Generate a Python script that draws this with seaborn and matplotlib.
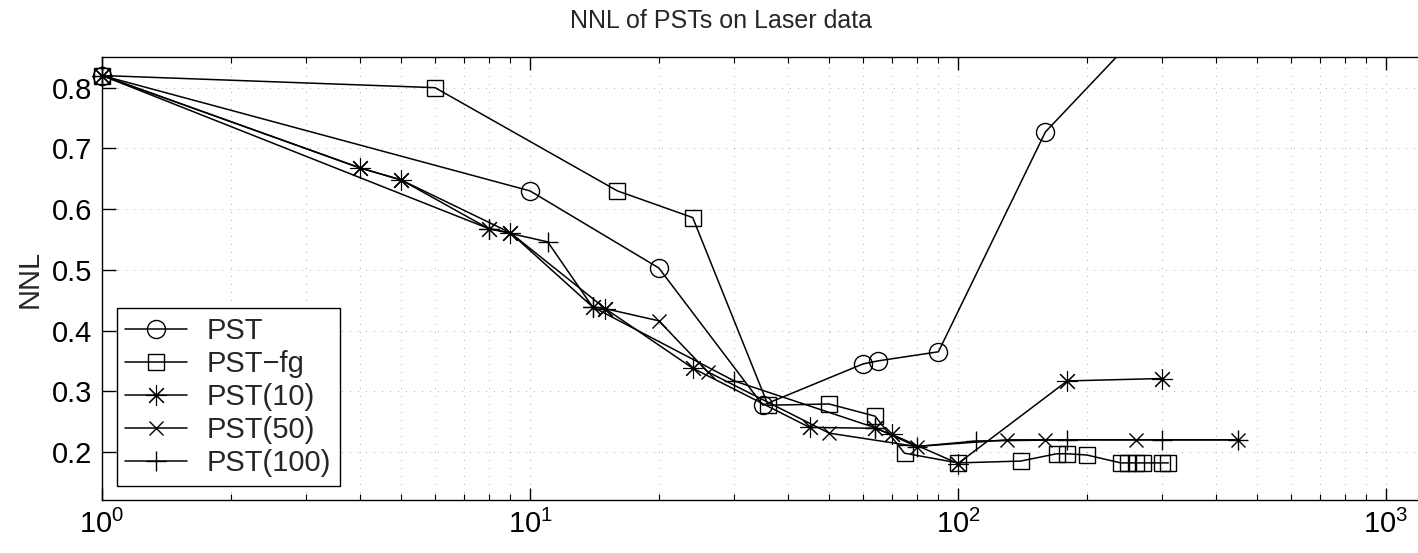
import matplotlib
matplotlib.use("Agg")
import matplotlib.pyplot as plt
import numpy as np
import pandas as pd
import seaborn as sns
from matplotlib.ticker import FixedLocator, FixedFormatter, NullFormatter
from matplotlib.transforms import Bbox, TransformedBbox

# ---------------- data ----------------
pst_x = [1, 10, 20, 35, 60, 65, 90, 160, 300]
pst_y = [0.82, 0.63, 0.503, 0.277, 0.345, 0.350, 0.365, 0.727, 0.93]

pstfg_x = [1, 6, 16, 24, 36, 50, 64, 75, 100, 140, 170, 180, 200, 240, 250, 260, 270, 300, 310]
pstfg_y = [0.82, 0.80, 0.63, 0.586, 0.277, 0.279, 0.259, 0.198, 0.182, 0.185, 0.197, 0.197,
           0.195, 0.182, 0.182, 0.182, 0.182, 0.182, 0.182]

pst10_x = [1, 4, 5, 8, 9, 14, 15, 24, 45, 64, 70, 100, 180, 300]
pst10_y = [0.82, 0.668, 0.648, 0.568, 0.561, 0.439, 0.436, 0.338, 0.2405, 0.239, 0.229, 0.181, 0.317, 0.321]

pst50_x = [1, 4, 5, 9, 15, 20, 26, 50, 80, 130, 160, 260, 450]
pst50_y = [0.82, 0.668, 0.648, 0.561, 0.436, 0.416, 0.332, 0.231, 0.209, 0.22, 0.22, 0.22, 0.22]

pst100_x = [1, 8, 11, 14, 30, 64, 80, 110, 180, 300, 450]
pst100_y = [0.82, 0.568, 0.546, 0.439, 0.317, 0.240, 0.209, 0.218, 0.22, 0.22, 0.22]

series_names = ["PST", "PST\u2212fg", "PST(10)", "PST(50)", "PST(100)"]
y_ticks = [0.2, 0.3, 0.4, 0.5, 0.6, 0.7, 0.8]
x_major = [1, 10, 100, 1000]
x_labels = [r"$\mathdefault{10^{0}}$", r"$\mathdefault{10^{1}}$",
            r"$\mathdefault{10^{2}}$", r"$\mathdefault{10^{3}}$"]
title = "NNL of PSTs on Laser data"
ylabel = "NNL"

# ---------------- styling ----------------
sns.set_theme(style="white")
plt.rcParams["font.family"] = ["Liberation Sans", "DejaVu Sans"]
plt.rcParams["mathtext.fontset"] = "custom"
plt.rcParams["mathtext.rm"] = "Liberation Sans"
plt.rcParams["mathtext.it"] = "Liberation Sans:italic"
plt.rcParams["mathtext.bf"] = "Liberation Sans:bold"

W, H = 1418, 553
fig = plt.figure(figsize=(W / 100, H / 100), dpi=100)
fig.patch.set_facecolor("white")
L, R, T, B = 102, 1425, 56.7, 500.3
ax = fig.add_axes([L / W, (H - B) / H, (R - L) / W, (B - T) / H])

markers = ["o", "s", (8, 2, 0), "x", "+"]
msizes = [13, 11, 15, 10, 14]
mews = [1.0, 1.0, 0.8, 1.0, 1.0]
data = [(pst_x, pst_y), (pstfg_x, pstfg_y), (pst10_x, pst10_y),
        (pst50_x, pst50_y), (pst100_x, pst100_y)]

for (xs, ys), name, mk, ms, mew in zip(data, series_names, markers, msizes, mews):
    df = pd.DataFrame({"x": xs, "y": ys})
    sns.lineplot(data=df, x="x", y="y", ax=ax, color="black", lw=1.1,
                 marker=mk, markersize=ms, markerfacecolor="none",
                 markeredgecolor="black", markeredgewidth=mew,
                 estimator=None, sort=False, label=name)

# clip lines at the top of the axes only, so markers on the left edge stay whole
clip = TransformedBbox(Bbox([[-0.05, -0.1], [1.05, 1.0]]), ax.transAxes)
for ln in ax.get_lines():
    ln.set_clip_box(clip)

ax.set_xscale("log")
xmax = 10 ** ((R - L) / 428.0)
ax.set_xlim(1, xmax)
ax.set_ylim(0.1204, 0.851)

minor = [m * 10 ** d for d in range(0, 3) for m in range(2, 10)]
ax.xaxis.set_major_locator(FixedLocator(x_major))
ax.xaxis.set_major_formatter(FixedFormatter(x_labels))
ax.xaxis.set_minor_locator(FixedLocator(minor))
ax.xaxis.set_minor_formatter(NullFormatter())
ax.yaxis.set_major_locator(FixedLocator(y_ticks))
ax.set_yticklabels([f"{v:.1f}" for v in y_ticks])

ax.tick_params(axis="both", which="both", direction="in", colors="black",
               labelsize=21, top=True, right=False, bottom=True, left=True)
ax.tick_params(axis="x", which="major", length=9, width=1.0, pad=7)
ax.tick_params(axis="x", which="minor", length=4, width=0.8)
ax.tick_params(axis="y", which="major", length=10, width=1.0, pad=7)

grid_kw = dict(color="0.25", linestyle=(0, (0.6, 9.0)), linewidth=0.6)
ax.grid(True, axis="x", which="both", **grid_kw)
ax.grid(True, axis="y", which="major", **grid_kw)

for s in ["left", "bottom", "top", "right"]:
    ax.spines[s].set_color("black")
    ax.spines[s].set_linewidth(1.0)
    ax.spines[s].set_zorder(5)

ax.set_xlabel("")
ax.set_ylabel(ylabel, fontsize=21, labelpad=6)
ax.set_title(title, fontsize=18, pad=21, x=(721 - L) / (R - L))

leg = ax.legend(loc="lower left", bbox_to_anchor=(116.7 / W, (H - 485.7) / H),
                bbox_transform=fig.transFigure, fontsize=21, frameon=True,
                fancybox=False, borderaxespad=0, handlelength=2.1,
                handletextpad=0.7, labelspacing=0.17, borderpad=0.3)
leg.get_frame().set_edgecolor("black")
leg.get_frame().set_linewidth(1.0)
leg.get_frame().set_alpha(1)
leg.set_zorder(10)

fig.savefig("out.png", dpi=100, facecolor="white")
